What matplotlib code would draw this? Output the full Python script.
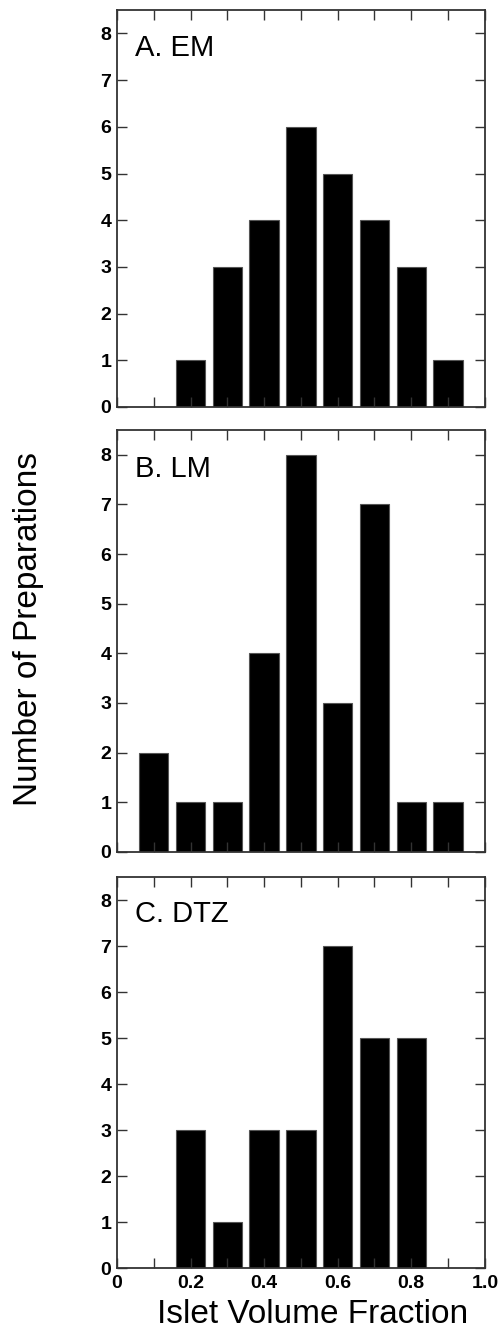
import matplotlib
matplotlib.use("Agg")
import matplotlib.pyplot as plt
from matplotlib.ticker import MultipleLocator, FixedLocator

plt.rcParams['font.family'] = ['Liberation Sans', 'DejaVu Sans']

# bin centres (islet volume fraction) and counts per panel
em_x = [0.2, 0.3, 0.4, 0.5, 0.6, 0.7, 0.8, 0.9]
em_n = [1, 3, 4, 6, 5, 4, 3, 1]

lm_x = [0.1, 0.2, 0.3, 0.4, 0.5, 0.6, 0.7, 0.8, 0.9]
lm_n = [2, 1, 1, 4, 8, 3, 7, 1, 1]

dtz_x = [0.2, 0.3, 0.4, 0.5, 0.6, 0.7, 0.8]
dtz_n = [3, 1, 3, 3, 7, 5, 5]

panels = [("A. EM", em_x, em_n), ("B. LM", lm_x, lm_n), ("C. DTZ", dtz_x, dtz_n)]
# [left, bottom, width, height] in figure fractions
boxes = [[0.232, 0.6965, 0.730, 0.296],
         [0.232, 0.3647, 0.730, 0.3147],
         [0.232, 0.0544, 0.730, 0.2916]]

fig = plt.figure(figsize=(5.04, 13.41), dpi=100)

for i, (name, xs, ns) in enumerate(panels):
    ax = fig.add_axes(boxes[i])
    ax.bar(xs, ns, width=0.08, color='black', edgecolor='#555555', linewidth=0.8)
    ax.set_xlim(0, 1.0)
    ax.set_ylim(0, 8.5)
    ax.yaxis.set_major_locator(MultipleLocator(1))
    ax.xaxis.set_major_locator(FixedLocator([0, 0.2, 0.4, 0.6, 0.8, 1.0]))
    ax.xaxis.set_minor_locator(MultipleLocator(0.1))
    ax.tick_params(which='both', direction='in', top=True, right=True,
                   length=7, width=1.0, color='#333333')
    ax.tick_params(axis='y', labelsize=14, pad=4)
    for lab in ax.get_yticklabels():
        lab.set_fontweight('bold')
    if i < 2:
        ax.set_xticklabels([])
    else:
        ax.set_xticklabels(['0', '0.2', '0.4', '0.6', '0.8', '1.0'],
                           fontsize=14, fontweight='bold')
        ax.tick_params(axis='x', pad=5)
    for sp in ax.spines.values():
        sp.set_linewidth(1.3)
        sp.set_color('#333333')
    ax.text(0.05, 0.94, name, transform=ax.transAxes, fontsize=21,
            ha='left', va='top')

fig.text(0.057, 0.531, "Number of Preparations", rotation=90,
         ha='center', va='center', fontsize=24)
fig.text(0.62, 0.02, "Islet Volume Fraction", ha='center', va='center',
         fontsize=24)

fig.savefig("out.png", dpi=100)
